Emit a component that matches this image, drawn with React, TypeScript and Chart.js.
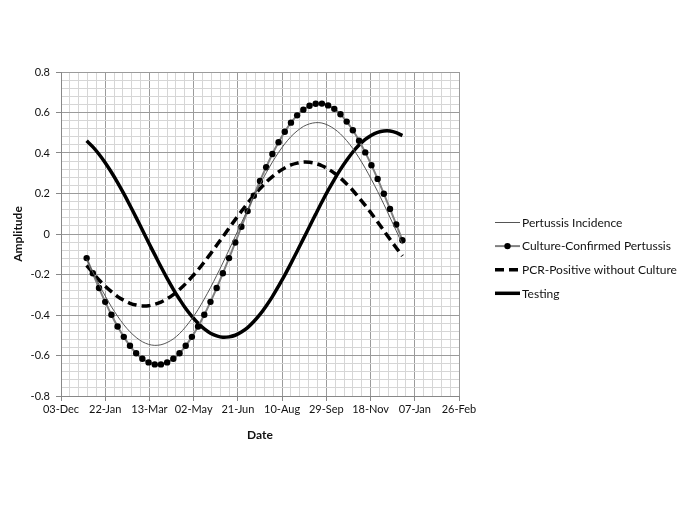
import React, { useEffect, useRef } from "react";
import { Chart, registerables } from "chart.js";

Chart.register(...registerables);

// Day offsets from 03-Dec (weekly points, 01-Jan .. 23-Dec)
const weekDays = [29, 36, 43, 50, 57, 64, 71, 78, 85, 92, 99, 106, 113, 120, 127, 134, 141, 148, 155, 162, 169, 176, 183, 190, 197, 204, 211, 218, 225, 232, 239, 246, 253, 260, 267, 274, 281, 288, 295, 302, 309, 316, 323, 330, 337, 344, 351, 358, 365, 372, 379, 386];

const incidence = [-0.125, -0.188, -0.249, -0.306, -0.359, -0.406, -0.448, -0.483, -0.511, -0.532, -0.545, -0.55, -0.547, -0.536, -0.518, -0.492, -0.458, -0.418, -0.373, -0.321, -0.265, -0.205, -0.143, -0.078, -0.012, 0.055, 0.12, 0.184, 0.245, 0.302, 0.355, 0.403, 0.445, 0.481, 0.509, 0.531, 0.544, 0.55, 0.548, 0.537, 0.519, 0.494, 0.461, 0.422, 0.376, 0.325, 0.269, 0.21, 0.147, 0.082, 0.016, -0.05];

const culture = [-0.119, -0.194, -0.267, -0.335, -0.399, -0.457, -0.508, -0.552, -0.589, -0.616, -0.634, -0.644, -0.644, -0.634, -0.616, -0.589, -0.552, -0.508, -0.457, -0.399, -0.335, -0.267, -0.194, -0.119, -0.042, 0.036, 0.113, 0.189, 0.262, 0.33, 0.395, 0.453, 0.505, 0.55, 0.586, 0.614, 0.633, 0.643, 0.644, 0.635, 0.618, 0.591, 0.555, 0.512, 0.461, 0.403, 0.34, 0.272, 0.199, 0.124, 0.047, -0.031];

const pcr = [-0.155, -0.192, -0.227, -0.258, -0.285, -0.309, -0.327, -0.342, -0.351, -0.355, -0.354, -0.347, -0.336, -0.32, -0.299, -0.274, -0.245, -0.212, -0.177, -0.138, -0.098, -0.056, -0.014, 0.029, 0.071, 0.112, 0.152, 0.19, 0.224, 0.256, 0.283, 0.307, 0.326, 0.341, 0.35, 0.355, 0.354, 0.348, 0.337, 0.321, 0.301, 0.276, 0.247, 0.215, 0.179, 0.141, 0.101, 0.059, 0.017, -0.026, -0.068, -0.109];

const testing = [0.46, 0.43, 0.394, 0.352, 0.305, 0.254, 0.199, 0.141, 0.081, 0.02, -0.042, -0.102, -0.162, -0.219, -0.273, -0.322, -0.368, -0.407, -0.441, -0.469, -0.49, -0.503, -0.51, -0.508, -0.5, -0.484, -0.462, -0.432, -0.397, -0.355, -0.309, -0.257, -0.203, -0.145, -0.085, -0.024, 0.037, 0.098, 0.158, 0.215, 0.269, 0.319, 0.364, 0.405, 0.439, 0.467, 0.488, 0.502, 0.509, 0.509, 0.501, 0.486];

const seriesLabels = ["Pertussis Incidence", "Culture-Confirmed Pertussis", "PCR-Positive without Culture", "Testing"];

const xTickLabels = ["03-Dec", "22-Jan", "13-Mar", "02-May", "21-Jun", "10-Aug", "29-Sep", "18-Nov", "07-Jan", "26-Feb"];
const xMajorStep = 50;
const xMinorStep = 10;
const yMin = -0.8;
const yMax = 0.8;
const yMajorStep = 0.2;
const yMinorStep = 0.04;

const MAJOR = "#9b9b9b";
const MINOR = "#d6d6d6";
const FONT = "Lato, 'Open Sans', sans-serif";

const isMajorX = (v: number) => Math.abs(v / xMajorStep - Math.round(v / xMajorStep)) < 1e-6;
const isMajorY = (v: number) => Math.abs(v / yMajorStep - Math.round(v / yMajorStep)) < 1e-6;

const toPoints = (vals: number[]) => vals.map((y, i) => ({ x: weekDays[i], y }));

const sideLegend = {
  id: "sideLegend",
  afterDraw(chart: any) {
    const ctx = chart.ctx;
    const x0 = 495;
    const x1 = 520;
    const tx = 522;
    const yStart = 222.5;
    const yGap = 23.6;
    ctx.save();
    chart.data.datasets.forEach((ds: any, i: number) => {
      const y = yStart + i * yGap;
      ctx.beginPath();
      ctx.strokeStyle = ds.borderColor;
      ctx.lineWidth = ds.borderWidth;
      ctx.setLineDash(ds.borderDash || []);
      ctx.lineCap = "butt";
      ctx.moveTo(x0, y);
      ctx.lineTo(x1, y);
      ctx.stroke();
      ctx.setLineDash([]);
      if (ds.pointRadius > 0) {
        ctx.beginPath();
        ctx.fillStyle = ds.pointBackgroundColor;
        ctx.arc((x0 + x1) / 2, y, ds.pointRadius, 0, Math.PI * 2);
        ctx.fill();
      }
      ctx.fillStyle = "#111";
      ctx.font = `12px ${FONT}`;
      ctx.textAlign = "left";
      ctx.textBaseline = "middle";
      ctx.fillText(ds.label, tx, y + 0.5);
    });
    ctx.restore();
  },
};

export default function App() {
  const canvasRef = useRef<HTMLCanvasElement | null>(null);

  useEffect(() => {
    document.body.style.margin = "0";
    const canvas = canvasRef.current;
    if (!canvas) return;
    const chart = new Chart(canvas, {
      type: "line",
      data: {
        datasets: [
          {
            label: seriesLabels[0],
            data: toPoints(incidence),
            borderColor: "#555555",
            borderWidth: 1,
            pointRadius: 0,
            tension: 0.3,
            fill: false,
          },
          {
            label: seriesLabels[1],
            data: toPoints(culture),
            borderColor: "#808080",
            borderWidth: 2,
            pointRadius: 3.2,
            pointBackgroundColor: "#000000",
            pointBorderColor: "#000000",
            pointBorderWidth: 0,
            tension: 0.3,
            fill: false,
          },
          {
            label: seriesLabels[2],
            data: toPoints(pcr),
            borderColor: "#000000",
            borderWidth: 3.5,
            borderDash: [9, 5],
            pointRadius: 0,
            tension: 0.3,
            fill: false,
          },
          {
            label: seriesLabels[3],
            data: toPoints(testing),
            borderColor: "#000000",
            borderWidth: 3.5,
            pointRadius: 0,
            tension: 0.3,
            fill: false,
          },
        ] as any,
      },
      options: {
        animation: false,
        responsive: false,
        devicePixelRatio: 1,
        layout: { padding: { top: 72, right: 226, bottom: 67, left: 0 } },
        plugins: {
          legend: { display: false },
          tooltip: { enabled: false },
        },
        scales: {
          x: {
            type: "linear",
            min: 0,
            max: 450,
            afterFit: (scale: any) => {
              scale.height = 50;
            },
            ticks: {
              stepSize: xMinorStep,
              maxTicksLimit: 200,
              autoSkip: false,
              maxRotation: 0,
              minRotation: 0,
              padding: 2,
              color: "#111",
              font: { family: FONT, size: 11 },
              callback: (v: any) => {
                const n = Number(v);
                return isMajorX(n) ? xTickLabels[Math.round(n / xMajorStep)] : "";
              },
            },
            grid: {
              color: (c: any) => (c.tick && isMajorX(c.tick.value) ? MAJOR : MINOR),
              tickColor: (c: any) => (c.tick && isMajorX(c.tick.value) ? "#888888" : "rgba(0,0,0,0)"),
              tickLength: 5,
              lineWidth: 1,
            },
            border: { display: true, color: "#888888", width: 1 },
            title: {
              display: true,
              text: "Date",
              color: "#111",
              font: { family: FONT, size: 12, weight: "bold" },
              padding: { top: 0, bottom: 4 },
            },
          },
          y: {
            type: "linear",
            min: yMin,
            max: yMax,
            afterFit: (scale: any) => {
              scale.width = 61;
            },
            ticks: {
              stepSize: yMinorStep,
              maxTicksLimit: 200,
              autoSkip: false,
              padding: 6,
              color: "#111",
              font: { family: FONT, size: 11 },
              callback: (v: any) => {
                const n = Number(v);
                return isMajorY(n) ? String(Math.round(n * 10) / 10) : "";
              },
            },
            grid: {
              color: (c: any) => (c.tick && isMajorY(c.tick.value) ? MAJOR : MINOR),
              tickColor: (c: any) => (c.tick && isMajorY(c.tick.value) ? "#888888" : "rgba(0,0,0,0)"),
              tickLength: 5,
              lineWidth: 1,
            },
            border: { display: true, color: "#888888", width: 1 },
            title: {
              display: true,
              text: "Amplitude",
              color: "#111",
              font: { family: FONT, size: 12, weight: "bold" },
              padding: { top: 11, bottom: 0 },
            },
          },
        },
      } as any,
      plugins: [sideLegend],
    });
    return () => chart.destroy();
  }, []);

  return (
    <div style={{ width: 685, height: 513, position: "relative", background: "#fff" }}>
      <canvas ref={canvasRef} width={685} height={513} style={{ display: "block" }} />
    </div>
  );
}
